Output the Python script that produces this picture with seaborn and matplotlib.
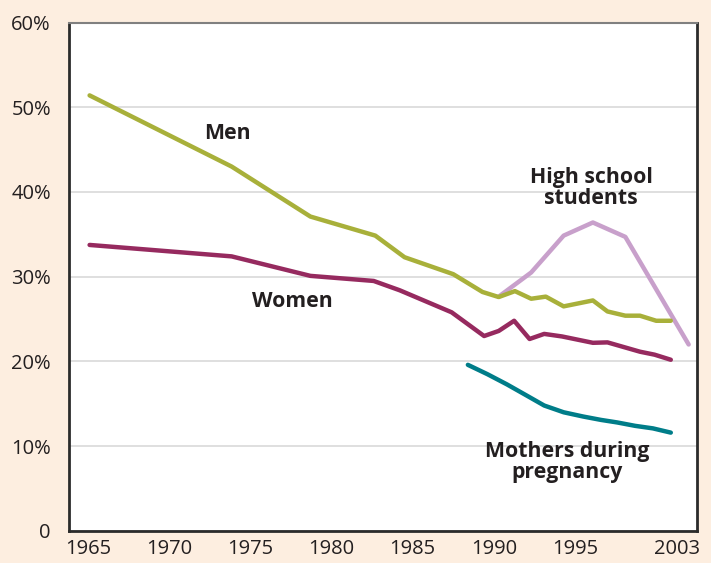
import matplotlib
matplotlib.use("Agg")
import matplotlib.pyplot as plt
import seaborn as sns
import pandas as pd

# ======== DATA ==================================
men_years = [1965.1, 1973.85, 1978.7, 1982.7, 1984.5, 1987.5, 1989.3, 1990.3, 1991.3,
             1992.3, 1993.2, 1994.3, 1996.1, 1997.0, 1998.1, 1999.0, 2000.0, 2000.9]
men_pct = [51.4, 43.0, 37.1, 34.85, 32.3, 30.3, 28.2, 27.6, 28.3,
           27.4, 27.65, 26.5, 27.2, 25.9, 25.4, 25.4, 24.8, 24.8]

women_years = [1965.1, 1973.85, 1978.7, 1982.6, 1984.2, 1987.4, 1989.4, 1990.3, 1991.25,
               1992.2, 1993.1, 1994.2, 1996.1, 1997.0, 1998.0, 1999.0, 1999.9, 2000.9]
women_pct = [33.75, 32.4, 30.1, 29.5, 28.4, 25.8, 23.0, 23.6, 24.8,
             22.65, 23.25, 22.95, 22.2, 22.25, 21.7, 21.15, 20.8, 20.2]

hs_years = [1990.3, 1992.3, 1994.3, 1996.1, 1998.1, 2002.0]
hs_pct = [27.65, 30.5, 34.85, 36.4, 34.7, 22.0]

mothers_years = [1988.4, 1989.6, 1990.8, 1992.0, 1993.1, 1994.3, 1995.5, 1996.6,
                 1997.6, 1998.7, 1999.8, 2000.9]
mothers_pct = [19.6, 18.5, 17.3, 16.0, 14.8, 14.0, 13.5, 13.1, 12.8, 12.4, 12.1, 11.6]

tick_years = [1965, 1970, 1975, 1980, 1985, 1990, 1995, 2001.3]
tick_labels = ["1965", "1970", "1975", "1980", "1985", "1990", "1995", "2003"]
y_ticks = [0, 10, 20, 30, 40, 50, 60]
y_labels = ["0", "10%", "20%", "30%", "40%", "50%", "60%"]

colors = {"Men": "#a8b03a", "Women": "#962a5f",
          "High school": "#c8a0cb", "Mothers": "#007d89"}

# long table for seaborn
frames = []
for name, xs, ys in [("Men", men_years, men_pct), ("Women", women_years, women_pct),
                     ("High school", hs_years, hs_pct), ("Mothers", mothers_years, mothers_pct)]:
    frames.append(pd.DataFrame({"year": xs, "pct": ys, "group": name}))
df = pd.concat(frames, ignore_index=True)

# ======== PLOT =========
sns.set_theme(style="white")
plt.rcParams["font.family"] = ["Open Sans", "DejaVu Sans"]

bg = "#fdeee0"
fig = plt.figure(figsize=(7.11, 5.63), dpi=100, facecolor=bg)
ax = fig.add_axes([0.097, 0.057, 0.883, 0.903])
ax.set_facecolor("white")

# draw later series first so the men line sits over the high-school start
for name in ["High school", "Mothers", "Women", "Men"]:
    sns.lineplot(data=df[df["group"] == name], x="year", y="pct", color=colors[name],
                 linewidth=3.2, ax=ax, sort=False, estimator=None,
                 solid_capstyle="round", solid_joinstyle="round")

ax.set_xlim(1963.83, 2002.5)
ax.set_ylim(0, 60)
ax.set_yticks(y_ticks)
ax.set_yticklabels(y_labels)
ax.set_xticks(tick_years)
ax.set_xticklabels(tick_labels)
ax.set_xlabel("")
ax.set_ylabel("")

ax.grid(axis="y", color="#dcdcdc", linewidth=1.3)
ax.set_axisbelow(True)
ax.tick_params(axis="x", direction="in", length=7, width=1.5, color="#333333",
               labelsize=14.5, pad=6, labelcolor="#231f20")
ax.tick_params(axis="y", length=0, labelsize=14.5, pad=13, labelcolor="#231f20")
for side in ["left", "bottom", "right"]:
    ax.spines[side].set_color("#2b2b2b")
    ax.spines[side].set_linewidth(2)
ax.spines["top"].set_color("#808080")
ax.spines["top"].set_linewidth(1.5)

label_kw = dict(fontsize=15.3, fontweight="bold", color="#231f20", ha="center", va="center")
ax.text(1973.6, 46.9, "Men", **label_kw)
ax.text(1977.6, 27.1, "Women", **label_kw)
ax.text(1996.0, 40.5, "High school\nstudents", linespacing=1.0, **label_kw)
ax.text(1994.5, 8.1, "Mothers during\npregnancy", linespacing=1.0, **label_kw)

plt.savefig("out.png", dpi=100, facecolor=bg)
